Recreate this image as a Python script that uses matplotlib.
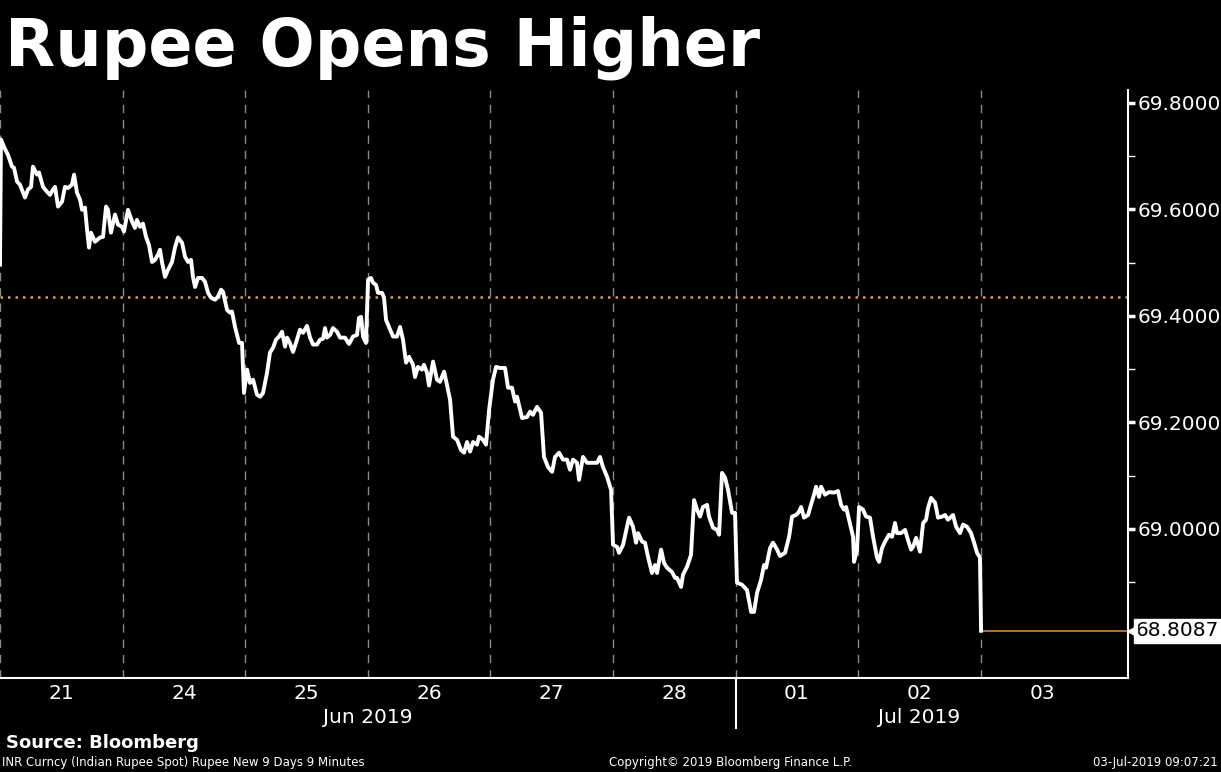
import matplotlib
matplotlib.use("Agg")
import matplotlib.pyplot as plt
import matplotlib.transforms as mtransforms

# session index (days since first session open) and INR spot price
t = [0.000, 0.008, 0.033, 0.065, 0.098, 0.114, 0.139, 0.163, 0.204, 0.228,
     0.253, 0.269, 0.302, 0.318, 0.351, 0.383, 0.408, 0.432, 0.449, 0.473,
     0.506, 0.530, 0.555, 0.587, 0.604, 0.628, 0.653, 0.669, 0.693, 0.710,
     0.726, 0.742, 0.775, 0.816, 0.840, 0.865, 0.881, 0.905, 0.938, 0.963,
     0.995, 1.011, 1.044, 1.077, 1.101, 1.117, 1.142, 1.166, 1.191, 1.215,
     1.240, 1.264, 1.289, 1.305, 1.321, 1.346, 1.370, 1.403, 1.427, 1.452,
     1.485, 1.509, 1.534, 1.558, 1.574, 1.591, 1.615, 1.648, 1.672, 1.697,
     1.721, 1.754, 1.778, 1.803, 1.819, 1.852, 1.876, 1.892, 1.917, 1.950,
     1.974, 1.990, 2.015, 2.039, 2.064, 2.096, 2.121, 2.145, 2.178, 2.202,
     2.227, 2.251, 2.276, 2.300, 2.325, 2.341, 2.365, 2.390, 2.414, 2.447,
     2.472, 2.504, 2.529, 2.553, 2.586, 2.610, 2.635, 2.651, 2.667, 2.692,
     2.716, 2.749, 2.773, 2.814, 2.847, 2.879, 2.912, 2.928, 2.945, 2.961,
     2.985, 3.002, 3.026, 3.042, 3.067, 3.083, 3.116, 3.132, 3.149, 3.173,
     3.206, 3.238, 3.263, 3.287, 3.312, 3.336, 3.369, 3.385, 3.409, 3.442,
     3.458, 3.483, 3.499, 3.532, 3.564, 3.589, 3.622, 3.646, 3.671, 3.695,
     3.728, 3.760, 3.785, 3.809, 3.834, 3.858, 3.891, 3.907, 3.940, 3.964,
     3.989, 4.021, 4.046, 4.078, 4.119, 4.144, 4.176, 4.201, 4.217, 4.258,
     4.299, 4.323, 4.347, 4.380, 4.413, 4.437, 4.470, 4.503, 4.527, 4.560,
     4.592, 4.625, 4.649, 4.674, 4.706, 4.723, 4.755, 4.788, 4.829, 4.870,
     4.894, 4.918, 4.951, 4.984, 5.000, 5.033, 5.049, 5.082, 5.114, 5.131,
     5.163, 5.188, 5.204, 5.237, 5.261, 5.286, 5.318, 5.343, 5.359, 5.392,
     5.416, 5.440, 5.481, 5.506, 5.522, 5.555, 5.571, 5.604, 5.636, 5.661,
     5.685, 5.710, 5.734, 5.767, 5.783, 5.816, 5.849, 5.865, 5.889, 5.914,
     5.938, 5.971, 5.995, 6.011, 6.052, 6.093, 6.126, 6.150, 6.175, 6.207,
     6.232, 6.248, 6.281, 6.305, 6.338, 6.362, 6.403, 6.436, 6.460, 6.493,
     6.517, 6.534, 6.558, 6.591, 6.607, 6.639, 6.656, 6.680, 6.697, 6.729,
     6.762, 6.803, 6.835, 6.860, 6.884, 6.901, 6.925, 6.958, 6.966, 6.990,
     7.007, 7.039, 7.064, 7.096, 7.121, 7.153, 7.170, 7.194, 7.219, 7.251,
     7.276, 7.300, 7.316, 7.349, 7.382, 7.406, 7.431, 7.447, 7.472, 7.504,
     7.529, 7.553, 7.569, 7.594, 7.627, 7.651, 7.684, 7.708, 7.732, 7.773,
     7.798, 7.830, 7.855, 7.887, 7.920, 7.945, 7.969, 7.993, 8.002]

price = [69.496, 69.731, 69.717, 69.702, 69.680, 69.678, 69.652, 69.646, 69.622, 69.637,
         69.642, 69.680, 69.665, 69.669, 69.642, 69.633, 69.627, 69.637, 69.642, 69.605,
         69.614, 69.642, 69.640, 69.646, 69.665, 69.631, 69.618, 69.599, 69.603, 69.562,
         69.528, 69.556, 69.539, 69.547, 69.548, 69.605, 69.599, 69.556, 69.590, 69.571,
         69.567, 69.558, 69.599, 69.577, 69.565, 69.580, 69.567, 69.573, 69.548, 69.533,
         69.501, 69.505, 69.515, 69.524, 69.501, 69.473, 69.486, 69.501, 69.528, 69.547,
         69.537, 69.511, 69.501, 69.505, 69.473, 69.454, 69.471, 69.471, 69.464, 69.443,
         69.434, 69.430, 69.436, 69.449, 69.445, 69.411, 69.406, 69.408, 69.379, 69.349,
         69.349, 69.255, 69.299, 69.274, 69.280, 69.252, 69.248, 69.255, 69.293, 69.331,
         69.340, 69.355, 69.361, 69.370, 69.342, 69.359, 69.349, 69.332, 69.349, 69.374,
         69.368, 69.381, 69.359, 69.346, 69.346, 69.355, 69.357, 69.377, 69.359, 69.364,
         69.377, 69.370, 69.359, 69.359, 69.347, 69.361, 69.364, 69.396, 69.398, 69.361,
         69.349, 69.468, 69.471, 69.462, 69.458, 69.443, 69.443, 69.434, 69.392, 69.379,
         69.361, 69.361, 69.379, 69.355, 69.312, 69.323, 69.308, 69.285, 69.304, 69.299,
         69.308, 69.293, 69.269, 69.314, 69.280, 69.276, 69.295, 69.270, 69.242, 69.173,
         69.167, 69.148, 69.143, 69.163, 69.145, 69.163, 69.158, 69.173, 69.167, 69.158,
         69.223, 69.280, 69.304, 69.302, 69.302, 69.265, 69.265, 69.239, 69.248, 69.208,
         69.210, 69.220, 69.214, 69.229, 69.218, 69.135, 69.116, 69.107, 69.135, 69.143,
         69.130, 69.130, 69.111, 69.130, 69.124, 69.092, 69.135, 69.124, 69.124, 69.124,
         69.135, 69.116, 69.098, 69.073, 68.970, 68.966, 68.955, 68.970, 69.004, 69.021,
         69.004, 68.974, 68.992, 68.976, 68.974, 68.947, 68.917, 68.932, 68.917, 68.961,
         68.936, 68.927, 68.919, 68.908, 68.908, 68.891, 68.914, 68.929, 68.951, 69.054,
         69.036, 69.023, 69.041, 69.045, 69.023, 69.002, 68.998, 68.989, 69.105, 69.096,
         69.073, 69.030, 69.030, 68.899, 68.895, 68.885, 68.844, 68.844, 68.880, 68.904,
         68.932, 68.927, 68.964, 68.974, 68.961, 68.949, 68.955, 68.985, 69.023, 69.026,
         69.032, 69.041, 69.021, 69.026, 69.039, 69.064, 69.079, 69.060, 69.079, 69.064,
         69.069, 69.068, 69.071, 69.045, 69.036, 69.041, 69.017, 68.985, 68.938, 68.961,
         69.041, 69.036, 69.023, 69.021, 68.985, 68.946, 68.938, 68.964, 68.976, 68.989,
         68.985, 69.011, 68.992, 68.992, 68.998, 68.979, 68.961, 68.966, 68.983, 68.957,
         69.011, 69.017, 69.039, 69.058, 69.049, 69.021, 69.023, 69.026, 69.017, 69.026,
         69.004, 68.992, 69.008, 69.004, 68.992, 68.974, 68.955, 68.946, 68.8087]

day_labels = ["21", "24", "25", "26", "27", "28", "01", "02", "03"]
months = [("Jun 2019", 3.0), ("Jul 2019", 7.5)]
month_break = 6
y_ticks = [69.0, 69.2, 69.4, 69.6, 69.8]
ref_level = 69.436
last_value = 68.8087
x_end = 9.2

plt.rcParams["font.family"] = ["DejaVu Sans"]

fig = plt.figure(figsize=(12.21, 7.72), dpi=100, facecolor="black")
ax = fig.add_axes([0.0, 0.1218, 0.9238, 0.7617], facecolor="black")

# dashed separators between sessions
for d in range(0, len(day_labels)):
    ax.axvline(d, color="#8a8a8a", lw=1, ls=(0, (6, 5)), zorder=1)

ax.axhline(ref_level, color="#f39a2b", lw=1.8, ls=(0, (1, 2)), zorder=2)
ax.plot(t, price, color="white", lw=2.8, solid_joinstyle="round", zorder=3)
ax.plot([t[-1], x_end], [last_value, last_value], color="#d9822b", lw=1.2, zorder=2)

ax.set_xlim(0, x_end)
ax.set_ylim(68.72, 69.824)

for side in ["left", "top"]:
    ax.spines[side].set_visible(False)
for side in ["right", "bottom"]:
    ax.spines[side].set_color("white")
    ax.spines[side].set_linewidth(1.5)

ax.yaxis.tick_right()
ax.set_yticks(y_ticks)
ax.set_yticklabels([f"{v:.4f}" for v in y_ticks])
ax.set_yticks([v + 0.1 for v in y_ticks[:-1]] + [68.9], minor=True)
ax.tick_params(axis="y", which="major", colors="white", labelsize=14.5,
               length=5, width=2.5, direction="out", pad=2)
ax.tick_params(axis="y", which="minor", colors="white", length=5, width=1,
               direction="out")
ax.set_xticks([])

trans = mtransforms.blended_transform_factory(ax.transData, ax.transAxes)
for i, lab in enumerate(day_labels):
    ax.text(i + 0.5, -0.026, lab, transform=trans, color="white",
            fontsize=14.5, ha="center", va="center")
for name, xpos in months:
    ax.text(xpos, -0.068, name, transform=trans, color="white",
            fontsize=14.5, ha="center", va="center")
ax.plot([month_break, month_break], [0, -0.085], transform=trans,
        color="white", lw=1.5, clip_on=False)

# last value tag
ax.plot([x_end], [last_value], marker="<", color="white", markersize=7,
        clip_on=False, zorder=5,
        transform=mtransforms.offset_copy(ax.transData, fig=fig, x=4, y=0, units="dots"))
ax.annotate(f"{last_value:.4f}", xy=(1, last_value),
            xycoords=("axes fraction", "data"), xytext=(8, 0),
            textcoords="offset pixels", ha="left", va="center",
            fontsize=14.5, color="black",
            bbox=dict(boxstyle="square,pad=0.12", fc="white", ec="white"))

fig.text(0.004, 0.938, "Rupee Opens Higher", color="white", fontsize=47,
         fontweight="bold", ha="left", va="center")
fig.text(0.005, 0.038, "Source: Bloomberg", color="white", fontsize=13,
         fontweight="bold", ha="left", va="center")
fig.text(0.002, 0.012, "INR Curncy (Indian Rupee Spot) Rupee New 9 Days 9 Minutes",
         color="white", fontsize=8.5, ha="left", va="center")
fig.text(0.598, 0.012, "Copyright\u00a9 2019 Bloomberg Finance L.P.",
         color="white", fontsize=8.5, ha="center", va="center")
fig.text(0.997, 0.012, "03-Jul-2019 09:07:21", color="white", fontsize=8.5,
         ha="right", va="center")

fig.savefig("out.png", dpi=100, facecolor="black")
